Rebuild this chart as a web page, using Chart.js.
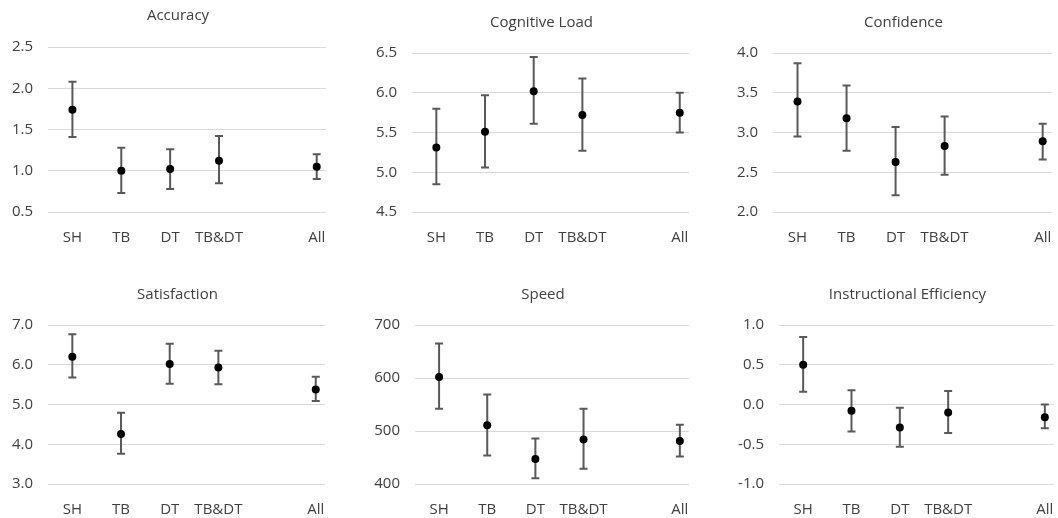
<!DOCTYPE html>
<html>
<head>
<meta charset="utf-8">
<script src="https://cdn.jsdelivr.net/npm/chart.js@4"></script>
<style>
  body { margin: 0; background: #fff; width: 1058px; height: 518px; position: relative; overflow: hidden; }
  canvas { position: absolute; }
</style>
</head>
<body>
<script>
// groups on the x axis (empty slot makes the gap before "All")
const categories = ['SH', 'TB', 'DT', 'TB&DT', '', 'All'];

const accuracyMean = [1.74, 1.00, 1.02, 1.12, null, 1.05];
const accuracyLow  = [1.41, 0.73, 0.78, 0.85, null, 0.90];
const accuracyHigh = [2.08, 1.28, 1.26, 1.42, null, 1.20];
const accuracyTicks = [0.5, 1.0, 1.5, 2.0, 2.5];

const loadMean = [5.31, 5.51, 6.02, 5.72, null, 5.75];
const loadLow  = [4.85, 5.06, 5.61, 5.27, null, 5.50];
const loadHigh = [5.80, 5.97, 6.45, 6.18, null, 6.00];
const loadTicks = [4.5, 5.0, 5.5, 6.0, 6.5];

const confidenceMean = [3.39, 3.18, 2.63, 2.83, null, 2.89];
const confidenceLow  = [2.95, 2.77, 2.21, 2.47, null, 2.66];
const confidenceHigh = [3.87, 3.59, 3.07, 3.20, null, 3.11];
const confidenceTicks = [2.0, 2.5, 3.0, 3.5, 4.0];

const satisfactionMean = [6.20, 4.26, 6.02, 5.93, null, 5.38];
const satisfactionLow  = [5.68, 3.76, 5.52, 5.51, null, 5.09];
const satisfactionHigh = [6.77, 4.79, 6.53, 6.35, null, 5.70];
const satisfactionTicks = [3.0, 4.0, 5.0, 6.0, 7.0];

const speedMean = [602, 511, 447, 484, null, 481];
const speedLow  = [542, 454, 411, 429, null, 452];
const speedHigh = [665, 569, 486, 542, null, 512];
const speedTicks = [400, 500, 600, 700];

const efficiencyMean = [0.50, -0.08, -0.29, -0.10, null, -0.16];
const efficiencyLow  = [0.16, -0.34, -0.53, -0.36, null, -0.30];
const efficiencyHigh = [0.85, 0.18, -0.04, 0.17, null, 0.00];
const efficiencyTicks = [-1.0, -0.5, 0.0, 0.5, 1.0];

Chart.defaults.font.family = "'Open Sans', sans-serif";
Chart.defaults.font.size = 15;
Chart.defaults.color = '#404040';

const YW = 46;   // left y axis width
const YR = 28;   // empty right axis, so the title centres a bit left of the plot
const XH = 40;   // x axis height
const LINE = 18; // title line height

// error bars drawn under the points, through the chart scales
const errorBars = {
  id: 'errorBars',
  beforeDatasetsDraw(chart) {
    const ctx = chart.ctx;
    const x = chart.scales.x, y = chart.scales.y;
    ctx.save();
    ctx.strokeStyle = '#595959';
    ctx.lineWidth = 2;
    chart.data.datasets[0].data.forEach(p => {
      const px = x.getPixelForValue(p.x);
      const top = y.getPixelForValue(p.hi);
      const bot = y.getPixelForValue(p.lo);
      ctx.beginPath();
      ctx.moveTo(px, top); ctx.lineTo(px, bot);
      ctx.moveTo(px - 4, top); ctx.lineTo(px + 4, top);
      ctx.moveTo(px - 4, bot); ctx.lineTo(px + 4, bot);
      ctx.stroke();
    });
    ctx.restore();
  }
};

function makePanel(title, mean, low, high, ticks, dec, box) {
  const canvas = document.createElement('canvas');
  const left = box.l - YW;
  const top = box.titleY - LINE / 2 - 2;
  const width = YW + (box.r - box.l) + YR;
  const height = (box.b - top) + XH;
  canvas.width = width;
  canvas.height = height;
  canvas.style.left = left + 'px';
  canvas.style.top = top + 'px';
  document.body.appendChild(canvas);

  let points = [];
  categories.forEach((c, i) => {
    if (mean[i] == null) return;
    points.push({ x: i, y: mean[i], lo: low[i], hi: high[i] });
  });

  new Chart(canvas.getContext('2d'), {
    type: 'scatter',
    data: {
      datasets: [{
        data: points,
        pointRadius: 4,
        pointBackgroundColor: '#000',
        pointBorderColor: '#000',
        pointBorderWidth: 0
      }]
    },
    options: {
      responsive: false,
      animation: false,
      layout: { padding: 0 },
      plugins: {
        legend: { display: false },
        tooltip: { enabled: false },
        title: {
          display: true,
          text: title,
          color: '#404040',
          font: { size: 15, weight: 'normal' },
          padding: { top: 2, bottom: box.t - (box.titleY + LINE / 2) }
        }
      },
      scales: {
        x: {
          type: 'linear',
          min: -0.5,
          max: 5.19,
          grid: { display: false },
          border: { display: false },
          afterBuildTicks: s => { s.ticks = categories.map((c, i) => ({ value: i })); },
          afterFit: s => { s.height = XH; },
          ticks: {
            padding: 9,
            autoSkip: false,
            maxRotation: 0,
            callback: v => categories[v]
          }
        },
        y: {
          min: ticks[0],
          max: ticks[ticks.length - 1],
          grid: { color: '#d9d9d9', lineWidth: 1, drawTicks: false },
          border: { display: false },
          afterBuildTicks: s => { s.ticks = ticks.map(v => ({ value: v })); },
          afterFit: s => { s.width = YW; },
          ticks: {
            padding: 15,
            callback: v => v.toFixed(dec)
          }
        },
        yRight: {
          type: 'linear',
          position: 'right',
          grid: { display: false },
          border: { display: false },
          ticks: { display: false },
          afterFit: s => { s.width = YR; }
        }
      }
    },
    plugins: [errorBars]
  });
}

makePanel('Accuracy', accuracyMean, accuracyLow, accuracyHigh, accuracyTicks, 1,
  { l: 48, t: 47, r: 326, b: 212, titleY: 16 });
makePanel('Cognitive Load', loadMean, loadLow, loadHigh, loadTicks, 1,
  { l: 412, t: 53, r: 689, b: 212, titleY: 23 });
makePanel('Confidence', confidenceMean, confidenceLow, confidenceHigh, confidenceTicks, 1,
  { l: 773, t: 53, r: 1052, b: 212, titleY: 23 });
makePanel('Satisfaction', satisfactionMean, satisfactionLow, satisfactionHigh, satisfactionTicks, 1,
  { l: 48, t: 325, r: 325, b: 484, titleY: 295 });
makePanel('Speed', speedMean, speedLow, speedHigh, speedTicks, 0,
  { l: 415, t: 325, r: 689, b: 484, titleY: 295 });
makePanel('Instructional Efficiency', efficiencyMean, efficiencyLow, efficiencyHigh, efficiencyTicks, 1,
  { l: 779, t: 325, r: 1054, b: 484, titleY: 295 });
</script>
</body>
</html>
